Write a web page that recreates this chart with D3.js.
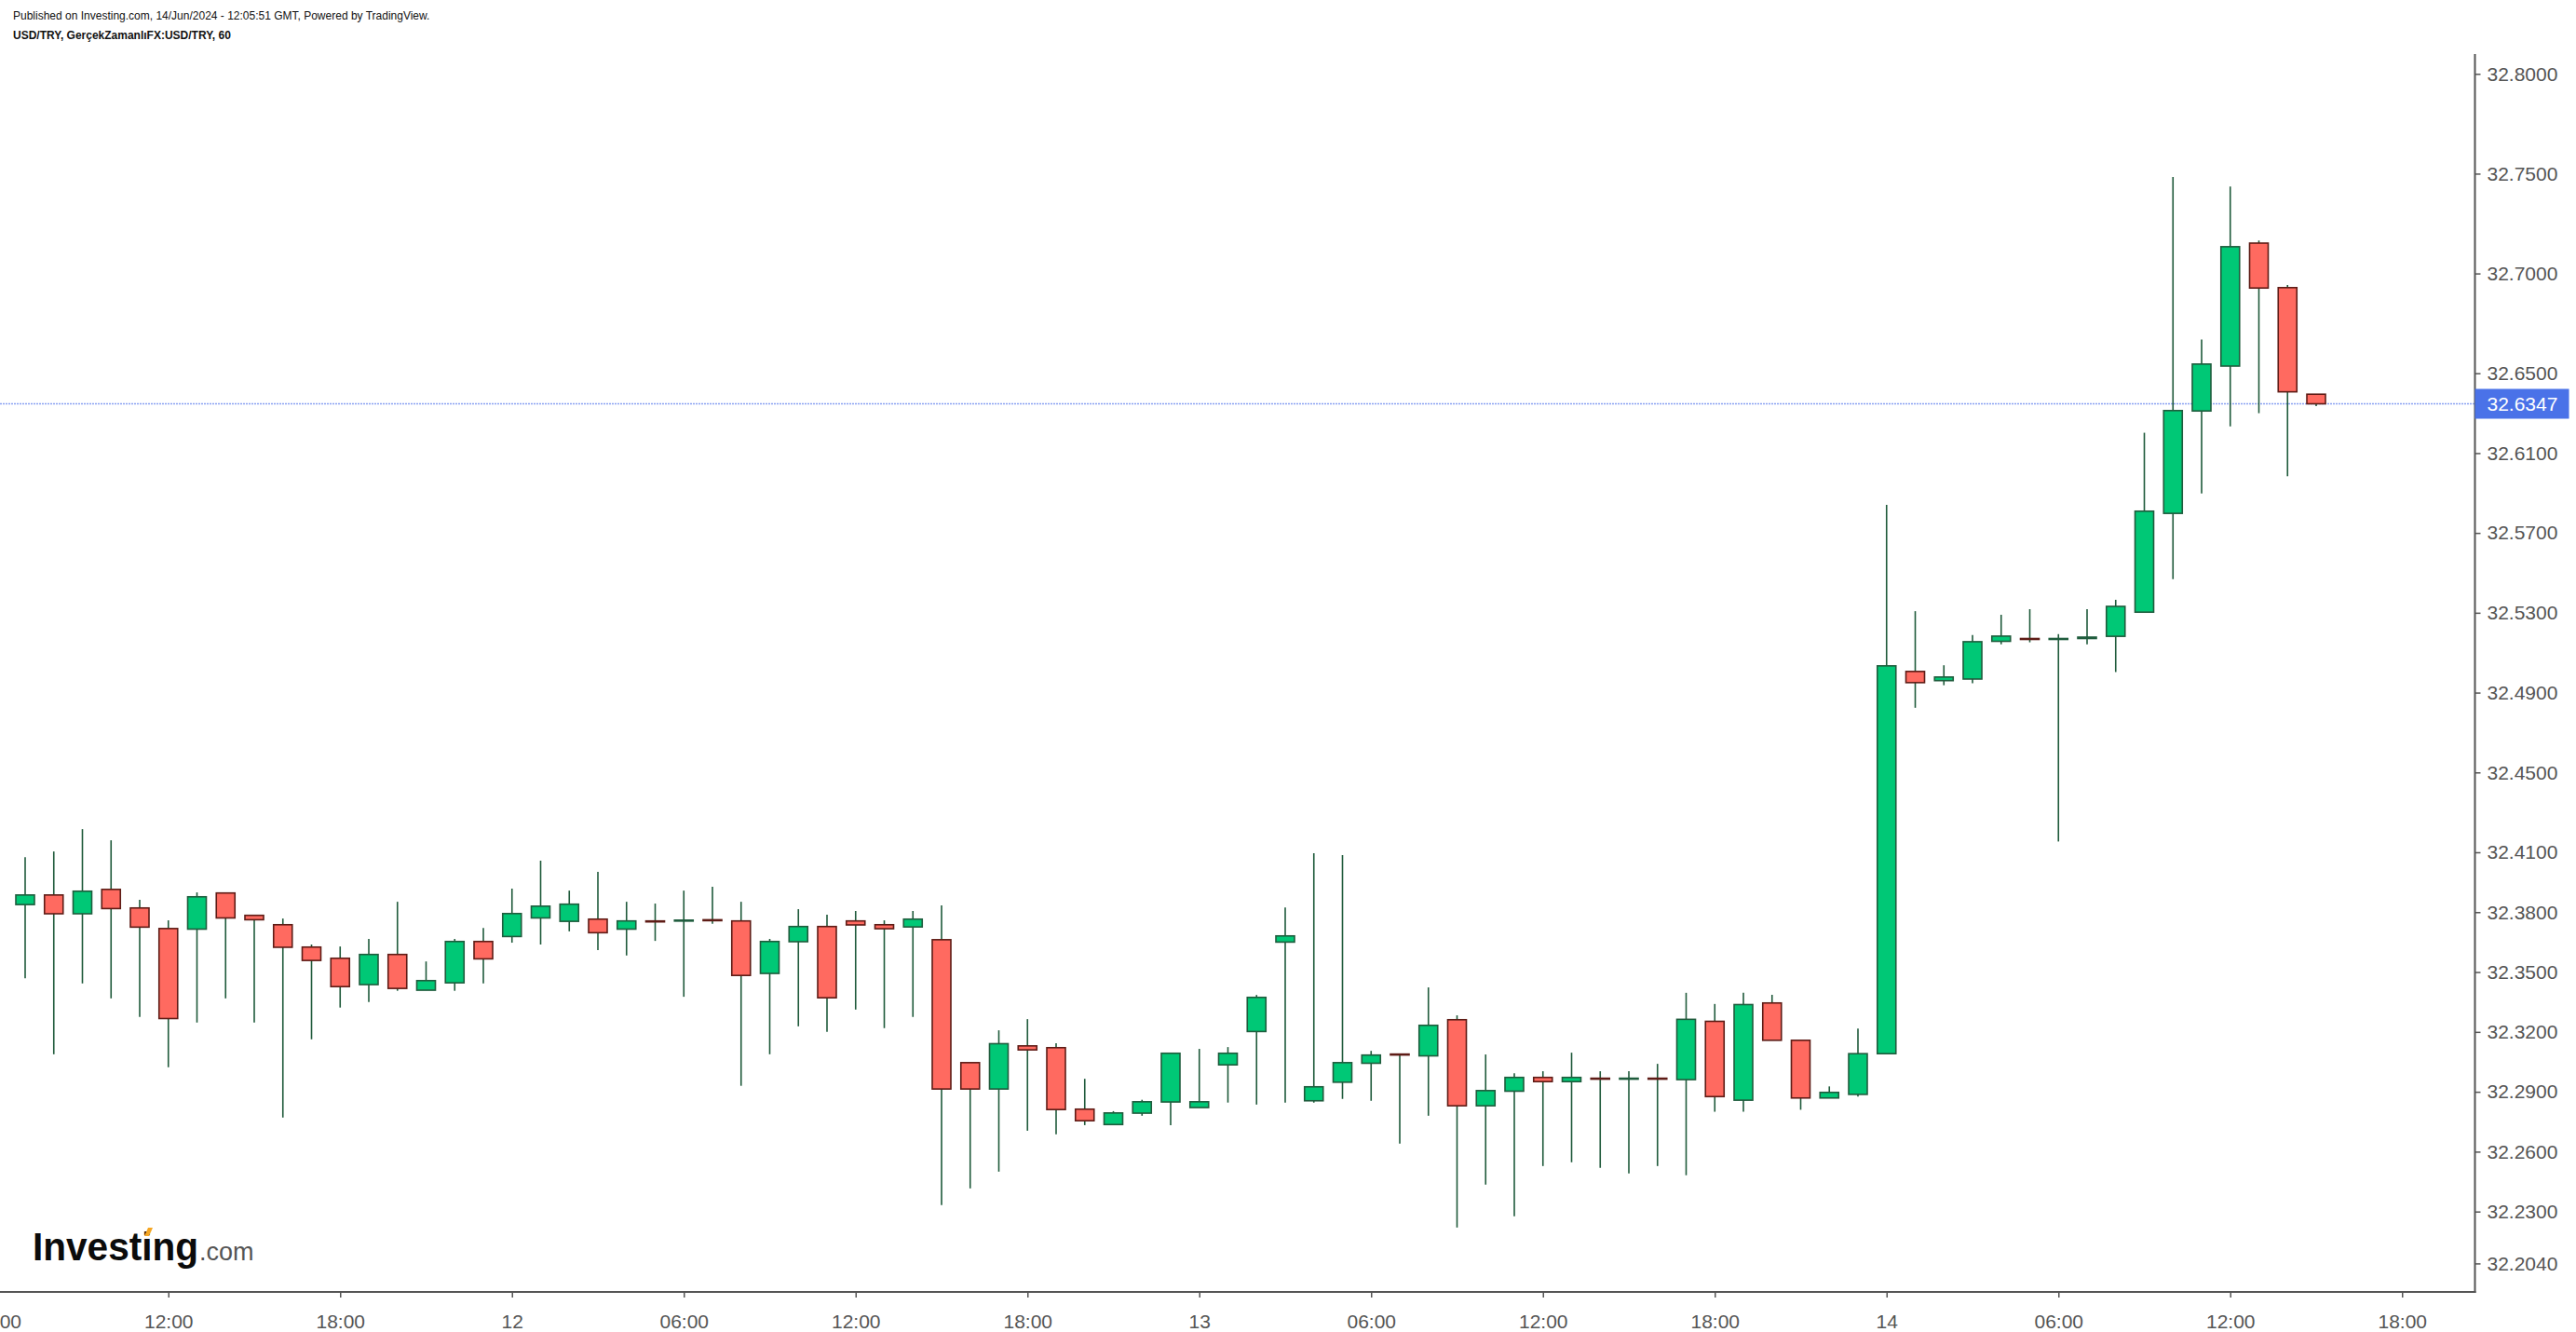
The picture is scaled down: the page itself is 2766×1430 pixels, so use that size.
<!DOCTYPE html>
<html><head><meta charset="utf-8">
<script src="https://cdn.jsdelivr.net/npm/d3@7"></script>
<style>html,body{margin:0;padding:0;background:#fff;overflow:hidden}svg{display:block}</style>
</head><body><svg id="chart" width="2766" height="1430"></svg>
<script>
// ---------- DATA (hourly USD/TRY candles, 11 Jun 07:00 -> 14 Jun 15:00) ----------
const firstBarUTC = Date.UTC(2024, 5, 11, 7);
const opens = [32.3838,32.3886,32.3792,32.3914,32.3821,32.3718,32.3715,32.3896,32.3784,32.3737,
  32.3625,32.3569,32.3437,32.3588,32.3409,32.3446,32.3653,32.3678,32.3771,32.3754,
  32.3765,32.3715,32.3756,32.3757,32.3762,32.3756,32.3493,32.3652,32.3728,32.3756,
  32.3737,32.3726,32.3662,32.3046,32.2914,32.3130,32.3121,32.2813,32.2736,32.2793,
  32.2849,32.2821,32.3035,32.3202,32.3650,32.2855,32.2948,32.3043,32.3089,32.3080,
  32.3261,32.2830,32.2903,32.2972,32.2951,32.2968,32.2966,32.2968,32.2961,32.3253,
  32.2858,32.3345,32.3158,32.2869,32.2887,32.3091,32.5006,32.4960,32.4968,32.5157,
  32.5171,32.5168,32.5171,32.5182,32.5303,32.5798,32.6311,32.6536,32.7152,32.6929,32.6395];
const highs = [32.4076,32.4104,32.4216,32.4160,32.3862,32.3759,32.3899,32.3896,32.3784,32.3768,
  32.3638,32.3628,32.3666,32.3852,32.3553,32.3666,32.3721,32.3918,32.4058,32.3908,
  32.4002,32.3852,32.3843,32.3908,32.3927,32.3852,32.3666,32.3815,32.3787,32.3806,
  32.3759,32.3806,32.3834,32.3046,32.3208,32.3264,32.3143,32.2965,32.2803,32.2860,
  32.3093,32.3115,32.3124,32.3385,32.3824,32.4095,32.4086,32.3105,32.3089,32.3423,
  32.3283,32.3087,32.2993,32.3003,32.3096,32.3003,32.3003,32.3040,32.3396,32.3340,
  32.3396,32.3386,32.3158,32.2927,32.3217,32.5841,32.5308,32.5037,32.5188,32.5290,
  32.5318,32.5193,32.5318,32.5365,32.6202,32.7483,32.6669,32.7436,32.7165,32.6942,32.6395];
const lows = [32.3469,32.3088,32.3443,32.3368,32.3275,32.3023,32.3247,32.3368,32.3247,32.2771,
  32.3163,32.3322,32.3350,32.3406,32.3409,32.3406,32.3443,32.3647,32.3638,32.3704,
  32.3610,32.3583,32.3656,32.3376,32.3742,32.2930,32.3088,32.3228,32.3200,32.3312,
  32.3219,32.3275,32.2332,32.2416,32.2500,32.2705,32.2687,32.2733,32.2736,32.2780,
  32.2733,32.2821,32.2846,32.2836,32.2846,32.2846,32.2864,32.2855,32.2640,32.2780,
  32.2220,32.2435,32.2276,32.2528,32.2547,32.2519,32.2491,32.2528,32.2482,32.2800,
  32.2800,32.3158,32.2810,32.2869,32.2876,32.3091,32.4824,32.4937,32.4947,32.5142,
  32.5152,32.4154,32.5142,32.5003,32.5303,32.5469,32.5898,32.6234,32.6300,32.5984,32.6335];
const closes = [32.3886,32.3792,32.3905,32.3818,32.3725,32.3267,32.3877,32.3771,32.3762,32.3624,
  32.3558,32.3427,32.3588,32.3418,32.3457,32.3653,32.3566,32.3793,32.3830,32.3840,
  32.3697,32.3756,32.3753,32.3760,32.3759,32.3483,32.3653,32.3728,32.3371,32.3736,
  32.3717,32.3765,32.2914,32.2914,32.3141,32.3110,32.2811,32.2755,32.2794,32.2850,
  32.3093,32.2850,32.3093,32.3373,32.3681,32.2925,32.3046,32.3084,32.3087,32.3233,
  32.2830,32.2906,32.2972,32.2951,32.2972,32.2966,32.2968,32.2966,32.3263,32.2876,
  32.3337,32.3158,32.2869,32.2897,32.3091,32.5034,32.4950,32.4978,32.5155,32.5183,
  32.5168,32.5171,32.5178,32.5332,32.5809,32.6313,32.6546,32.7134,32.6927,32.6407,32.6347];
const lastPrice = 32.6347;
const yTickValues = [32.8000,32.7500,32.7000,32.6500,32.6100,32.5700,32.5300,32.4900,32.4500,
  32.4100,32.3800,32.3500,32.3200,32.2900,32.2600,32.2300,32.2040];
const xTickTimes = ["2024-06-11T06:00Z","2024-06-11T12:00Z","2024-06-11T18:00Z","2024-06-12T00:00Z",
  "2024-06-12T06:00Z","2024-06-12T12:00Z","2024-06-12T18:00Z","2024-06-13T00:00Z","2024-06-13T06:00Z",
  "2024-06-13T12:00Z","2024-06-13T18:00Z","2024-06-14T00:00Z","2024-06-14T06:00Z","2024-06-14T12:00Z",
  "2024-06-14T18:00Z"];
const headerLine1 = "Published on Investing.com, 14/Jun/2024 - 12:05:51 GMT, Powered by TradingView.";
const headerLine2 = "USD/TRY, GerçekZamanlıFX:USD/TRY, 60";

// ---------- STYLE ----------
const FONT = "'Liberation Sans', Arial, sans-serif";
const AXIS_COLOR = "#555555";
const UP_FILL = "#00c876", UP_LINE = "#1f5c3d";
const DOWN_FILL = "#ff6a60", DOWN_LINE = "#5e1c16";
const WICK = "#1f5a3b";

const bars = opens.map((o, i) => ({
  t: new Date(firstBarUTC + i * 3600e3), o, h: highs[i], l: lows[i], c: closes[i]
}));

const svg = d3.select("#chart");
const plotRight = 2657.5, plotTop = 58, plotBottom = 1387;

const x = d3.scaleUtc()
  .domain([new Date("2024-06-11T06:00Z"), new Date("2024-06-14T18:00Z")])
  .range([-3.75, 2579.25]);
const y = d3.scaleLinear().domain([32.204, 32.8]).range([1356.4, 79.3]);

svg.append("defs").append("clipPath").attr("id", "plotclip")
  .append("rect").attr("x", 0).attr("y", plotTop).attr("width", plotRight).attr("height", plotBottom - plotTop);

const plot = svg.append("g").attr("clip-path", "url(#plotclip)");

// last price line
plot.append("line")
  .attr("x1", 0).attr("x2", plotRight)
  .attr("y1", y(lastPrice)).attr("y2", y(lastPrice))
  .attr("stroke", "#8aa2f2").attr("stroke-width", 1.5).attr("stroke-dasharray", "2,1");

const bodyW = 20;
plot.append("g").selectAll("line").data(bars).join("line")
  .attr("x1", d => x(d.t)).attr("x2", d => x(d.t))
  .attr("y1", d => y(d.h)).attr("y2", d => y(d.l))
  .attr("stroke", WICK).attr("stroke-width", 1.6);

plot.append("g").selectAll("rect").data(bars).join("rect")
  .attr("x", d => x(d.t) - bodyW / 2)
  .attr("width", bodyW)
  .attr("y", d => y(Math.max(d.o, d.c)))
  .attr("height", d => Math.max(1, Math.abs(y(d.o) - y(d.c))))
  .attr("fill", d => d.c >= d.o ? UP_FILL : DOWN_FILL)
  .attr("stroke", d => d.c >= d.o ? UP_LINE : DOWN_LINE)
  .attr("stroke-width", 1.6);

// ---------- AXES ----------
const yAxis = d3.axisRight(y).tickValues(yTickValues).tickFormat(d3.format(".4f"))
  .tickSize(6).tickPadding(7);
const gy = svg.append("g").attr("transform", `translate(${plotRight},0)`).call(yAxis);
gy.select(".domain").remove();
gy.selectAll(".tick line").attr("stroke", AXIS_COLOR).attr("stroke-width", 1.5);
gy.selectAll(".tick text").attr("fill", AXIS_COLOR).style("font-family", FONT).style("font-size", "21px");

const fmtX = d => (d.getUTCHours() === 0 ? d3.utcFormat("%-d")(d) : d3.utcFormat("%H:%M")(d));
const xAxis = d3.axisBottom(x).tickValues(xTickTimes.map(s => new Date(s))).tickFormat(fmtX)
  .tickSize(6).tickPadding(18);
const gx = svg.append("g").attr("transform", `translate(0,${plotBottom})`).call(xAxis);
gx.select(".domain").remove();
gx.selectAll(".tick line").attr("stroke", AXIS_COLOR).attr("stroke-width", 1.5);
gx.selectAll(".tick text").attr("fill", AXIS_COLOR).style("font-family", FONT).style("font-size", "21px");

svg.append("line").attr("x1", plotRight).attr("x2", plotRight).attr("y1", plotTop).attr("y2", plotBottom + 1)
  .attr("stroke", AXIS_COLOR).attr("stroke-width", 2);
svg.append("line").attr("x1", 0).attr("x2", plotRight + 1).attr("y1", plotBottom).attr("y2", plotBottom)
  .attr("stroke", AXIS_COLOR).attr("stroke-width", 2);

// last price tag
const tag = svg.append("g").attr("transform", `translate(${plotRight},${y(lastPrice)})`);
tag.append("rect").attr("x", 0).attr("y", -16).attr("width", 101).attr("height", 32).attr("fill", "#4a72e8");
tag.append("text").attr("x", 13).attr("dy", "0.35em").text(d3.format(".4f")(lastPrice))
  .attr("fill", "#fff").style("font-family", FONT).style("font-size", "21px");

// ---------- HEADER ----------
svg.append("text").attr("x", 14).attr("y", 21).text(headerLine1)
  .style("font-family", FONT).style("font-size", "12px").attr("fill", "#111");
svg.append("text").attr("x", 14).attr("y", 42).text(headerLine2)
  .style("font-family", FONT).style("font-size", "12px").style("font-weight", "bold").attr("fill", "#111");

// ---------- LOGO ----------
const logo = svg.append("g");
logo.append("text").attr("x", 35).attr("y", 1353).text("Investing")
  .attr("textLength", 178).attr("lengthAdjust", "spacingAndGlyphs")
  .style("font-family", FONT).style("font-size", "42px").style("font-weight", "bold").attr("fill", "#0b0b0b");
logo.append("text").attr("x", 214).attr("y", 1353).text(".com")
  .style("font-family", FONT).style("font-size", "27px").attr("fill", "#555");
logo.append("path").attr("d", "M155,1327 L159,1318 L164,1318 L160,1327 Z").attr("fill", "#f5a623");
</script></body></html>
